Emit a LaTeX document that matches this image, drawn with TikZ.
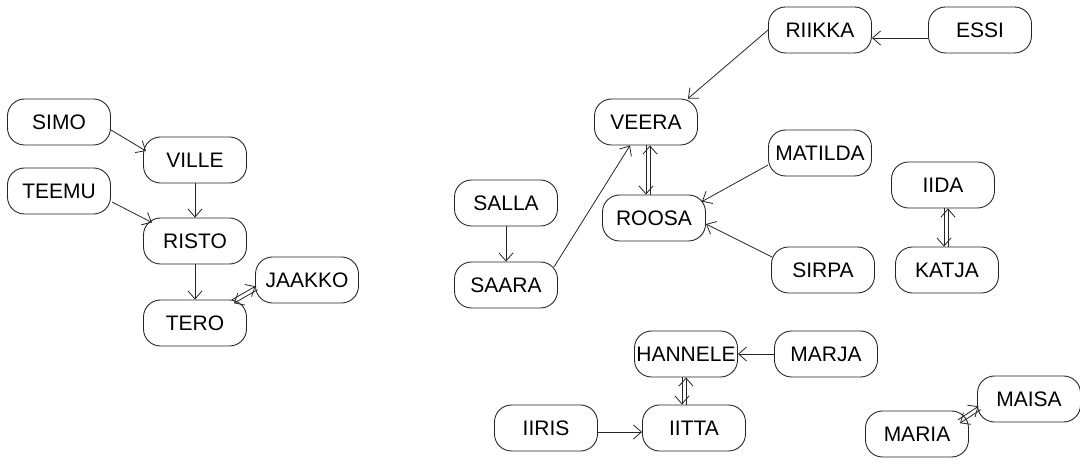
\documentclass[tikz,border=0pt]{standalone}
\usepackage{fontspec}
\setmainfont{Liberation Sans}
\usetikzlibrary{arrows.meta,calc}
\begin{document}
\begin{tikzpicture}[x=1pt,y=-1pt,
  person/.style={draw=black!85, line width=0.9pt, rounded corners=17pt,
    minimum width=103pt, minimum height=46pt, inner sep=0pt,
    font=\fontsize{21}{24}\selectfont},
  arr/.style={draw=black!85, line width=0.8pt, -{Straight Barb[length=8pt,width=14pt]}}]
\useasboundingbox (0,0) rectangle (1080,470);

% left family
\node[person] (SIMO)   at (59,122)  {SIMO};
\node[person] (VILLE)  at (195,160) {VILLE};
\node[person] (TEEMU)  at (59,191)  {TEEMU};
\node[person] (RISTO)  at (195,241) {RISTO};
\node[person] (JAAKKO) at (307,280) {JAAKKO};
\node[person] (TERO)   at (195,323) {TERO};

% right-hand groups
\node[person] (RIIKKA)  at (820,30)  {RIIKKA};
\node[person] (ESSI)    at (980,30)  {ESSI};
\node[person] (VEERA)   at (646,122) {VEERA};
\node[person] (MATILDA) at (820,153) {MATILDA};
\node[person] (SALLA)   at (506,203) {SALLA};
\node[person] (ROOSA)   at (654,218) {ROOSA};
\node[person] (SAARA)   at (506,285) {SAARA};
\node[person] (SIRPA)   at (823,270) {SIRPA};
\node[person] (IIDA)    at (943,185) {IIDA};
\node[person] (KATJA)   at (947,270) {KATJA};
\node[person] (HANNELE) at (686,354) {HANNELE};
\node[person] (MARJA)   at (826,354) {MARJA};
\node[person] (IIRIS)   at (546,428) {IIRIS};
\node[person] (IITTA)   at (694,428) {IITTA};
\node[person] (MAISA)   at (1029,399) {MAISA};
\node[person] (MARIA)   at (917,434) {MARIA};

% single links
\draw[arr] ($(SIMO.east)+(0,8)$) -- ($(VILLE.west)+(3,-9)$);
\draw[arr] (VILLE.south) -- (RISTO.north);
\draw[arr] ($(TEEMU.east)+(1,11)$) -- ($(RISTO.north west)+(9,5)$);
\draw[arr] (RISTO.south) -- (TERO.north);
\draw[arr] (RIIKKA.west) -- ($(VEERA.north east)+(-10,0)$);
\draw[arr] ($(ESSI.west)+(0,8)$) -- ($(RIIKKA.east)+(0,8)$);
\draw[arr] (SALLA.south) -- (SAARA.north);
\draw[arr] ($(SAARA.east)+(-4,-18)$) -- ($(VEERA.south)+(-16,0)$);
\draw[arr] ($(MATILDA.west)+(0,12)$) -- ($(ROOSA.north east)+(-4,7)$);
\draw[arr] ($(SIRPA.west)+(1,-13)$) -- ($(ROOSA.east)+(0,6)$);
\draw[arr] (MARJA.west) -- (HANNELE.east);
\draw[arr] ($(IIRIS.east)+(0,4)$) -- ($(IITTA.west)+(0,4)$);

% mutual links (two parallel arrows)
\draw[arr] (VEERA.south) -- (VEERA.south |- ROOSA.north);
\draw[arr] ($(VEERA.south |- ROOSA.north)+(4,0)$) -- ($(VEERA.south)+(4,0)$);

\draw[arr] ($(IIDA.south)+(1,0)$) -- ($(IIDA.south |- KATJA.north)+(1,0)$);
\draw[arr] ($(IIDA.south |- KATJA.north)+(5,0)$) -- ($(IIDA.south)+(5,0)$);

\draw[arr] ($(HANNELE.south)+(-4,0)$) -- ($(HANNELE.south |- IITTA.north)+(-4,0)$);
\draw[arr] (HANNELE.south |- IITTA.north) -- (HANNELE.south);

\coordinate (ja) at ($(JAAKKO.west)+(1.5,8)$);
\coordinate (te) at ($(TERO.north east)+(-14,2)$);
\draw[arr] ($(ja)!2pt!90:(te)$) -- ($(te)!2pt!-90:(ja)$);
\draw[arr] ($(te)!2pt!90:(ja)$) -- ($(ja)!2pt!-90:(te)$);

\coordinate (mr) at ($(MARIA.north east)+(-10,11)$);
\coordinate (ms) at ($(MAISA.west)+(2.5,9)$);
\draw[arr] ($(mr)!2pt!90:(ms)$) -- ($(ms)!2pt!-90:(mr)$);
\draw[arr] ($(ms)!2pt!90:(mr)$) -- ($(mr)!2pt!-90:(ms)$);
\end{tikzpicture}
\end{document}
